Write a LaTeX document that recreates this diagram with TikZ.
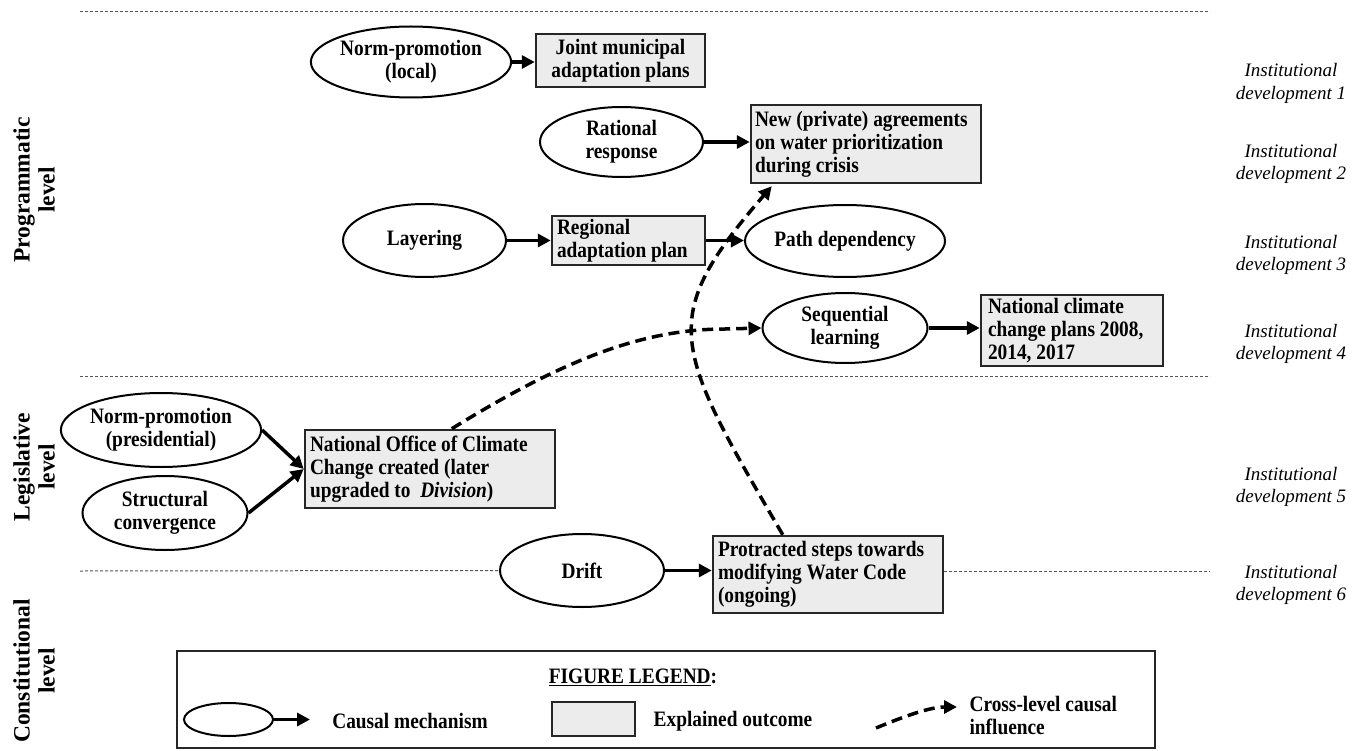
\documentclass[tikz,border=0pt]{standalone}
\usepackage{fontspec}
\setmainfont{Liberation Serif}
\newfontfamily\condserif{Liberation Serif}[FakeStretch=0.88]
\usetikzlibrary{shapes.geometric,arrows.meta,calc}
\definecolor{boxfill}{RGB}{236,236,236}
\definecolor{sepgray}{RGB}{85,85,85}
\begin{document}
\begin{tikzpicture}[x=1pt,y=-1pt,
  txt/.style={font=\condserif\fontsize{22}{23}\selectfont\bfseries},
  mech/.style={ellipse, draw, line width=2pt, inner sep=0pt, align=center, txt},
  outc/.style={rectangle, draw=black!85, line width=2.5pt, fill=boxfill, inner sep=0pt, txt},
  outcl/.style={outc, align=flush left, inner xsep=5pt, text width=#1},
  arr/.style={line width=3.5pt, -{Triangle[length=13pt,width=13pt]}},
  cross/.style={line width=3.5pt, dash pattern=on 11pt off 6pt, -{Triangle[length=13pt,width=13pt]}},
  sepline/.style={sepgray, line width=1pt, dash pattern=on 3pt off 2pt},
  inst/.style={font=\fontsize{19}{22.5}\selectfont\itshape, align=center},
  lvl/.style={font=\fontsize{23.5}{25}\selectfont\bfseries, rotate=90, align=center}]
\useasboundingbox (0,0) rectangle (1367,751);

% separators
\coordinate (s1a) at (80,12); \coordinate (s1b) at (1210,12);
\coordinate (s2a) at (80,376); \coordinate (s2b) at (1210,376);
\coordinate (s3a) at (80,571); \coordinate (s3b) at (1210,571);
\draw[sepline] (s1a) -- (s1b);
\draw[sepline] (s2a) -- (s2b);

% level labels
\node[lvl] (lprog) at (34,190) {Programmatic\\level};
\node[lvl] (lleg) at (34,467) {Legislative\\level};
\node[lvl] (lcon) at (34,671) {Constitutional\\level};

% institutional development labels
\node[inst] (id1) at (1291,83.5) {Institutional\\development 1};
\node[inst] (id2) at (1291,164) {Institutional\\development 2};
\node[inst] (id3) at (1291,255) {Institutional\\development 3};
\node[inst] (id4) at (1291,344) {Institutional\\development 4};
\node[inst] (id5) at (1291,487) {Institutional\\development 5};
\node[inst] (id6) at (1291,585) {Institutional\\development 6};

% programmatic level
\node[mech, minimum width=164pt, minimum height=71pt] (npl) at (411,62) {Norm-promotion\\(local)};
\node[outc, align=center, minimum width=169pt, minimum height=53pt] (joint) at (620.5,60.5) {Joint municipal\\adaptation plans};
\node[mech, minimum width=163pt, minimum height=70pt] (rat) at (621.5,142) {Rational\\response};
\node[outcl=222pt, inner xsep=4pt, minimum height=78pt] (newag) at (866,144) {New (private) agreements\\on water prioritization\\during crisis};
\node[mech, minimum width=163pt, minimum height=73pt] (lay) at (424.5,240.5) {Layering};
\node[outcl=143pt, minimum height=49pt] (reg) at (628.5,240.5) {Regional\\adaptation plan};
\node[mech, minimum width=174pt, minimum height=72pt] (path) at (845,241) {Path dependency};
\node[mech, minimum width=165pt, minimum height=70pt] (seq) at (845,328) {Sequential\\learning};
\node[outcl=168pt, inner xsep=7pt, minimum height=71pt] (ncc) at (1072,330.5) {National climate\\change plans 2008,\\2014, 2017};

% legislative level
\node[mech, minimum width=164pt, minimum height=74pt] (npp) at (161,430) {Norm-promotion\\(presidential)};
\node[mech, minimum width=165pt, minimum height=74pt] (struc) at (165,513) {Structural\\convergence};
\node[outcl=240pt, minimum height=78pt] (noc) at (430,469) {National Office of Climate\\Change created (later\\upgraded to\ \ \textit{Division})};
\node[mech, minimum width=164pt, minimum height=73pt] (drift) at (582,570.5) {Drift};
\node[outcl=220pt, minimum height=77pt] (prot) at (828,574.5) {Protracted steps towards\\modifying Water Code\\(ongoing)};

\draw[sepline] (s3a) -- (drift.west);
\draw[sepline] (s3b -| prot.east) -- (s3b);

% causal arrows
\draw[arr] (npl.east) -- (npl.east -| joint.west);
\draw[arr] (rat.east) -- (rat.east -| newag.west);
\draw[arr] (lay.east) -- (lay.east -| reg.west);
\draw[arr] (reg.east) -- (reg.east -| path.west);
\draw[arr] (seq.east) -- (seq.east -| ncc.west);
\draw[arr] (npp.east) -- (noc.west);
\draw[arr] (struc.east) -- (noc.west);
\draw[arr] (drift.east) -- (drift.east -| prot.west);

% cross-level influences
\coordinate (nocstart) at ($(noc.north west)+(148,0)$);
\coordinate (nocbend) at (725,329);
\draw[cross] (nocstart) .. controls (560,362) and (640,329) .. (nocbend) -- (seq.west);
\coordinate (protstart) at ($(prot.north west)+(71,0)$);
\coordinate (newagend) at ($(newag.south west)+(22,2)$);
\draw[cross] (protstart) .. controls (672,345) and (657,319) .. (newagend);

% legend
\node[draw=black!85, line width=2.5pt, minimum width=978pt, minimum height=97pt, inner sep=0pt] (legend) at (666,699.5) {};
\node[txt] (lgtitle) at (633,677) {\underline{FIGURE LEGEND}:};
\node[ellipse, draw, line width=2pt, minimum width=89pt, minimum height=33pt, inner sep=0pt] (lgell) at (228.5,719.5) {};
\coordinate (lgarr) at (310,719.5);
\draw[arr] (lgell.east) -- (lgarr);
\node[txt] (lgmech) at (410,721) {Causal mechanism};
\node[outc, minimum width=83pt, minimum height=34pt] (lgbox) at (593.5,719) {};
\node[txt] (lgout) at (733,721) {Explained outcome};
\coordinate (lgcs) at (876,728);
\coordinate (lgce) at (957,707);
\draw[cross] (lgcs) .. controls (905,716) and (930,707) .. (lgce);
\node[txt, align=flush left, anchor=west] (lgcross) at (966,715) {Cross-level causal\\influence};
\end{tikzpicture}
\end{document}
